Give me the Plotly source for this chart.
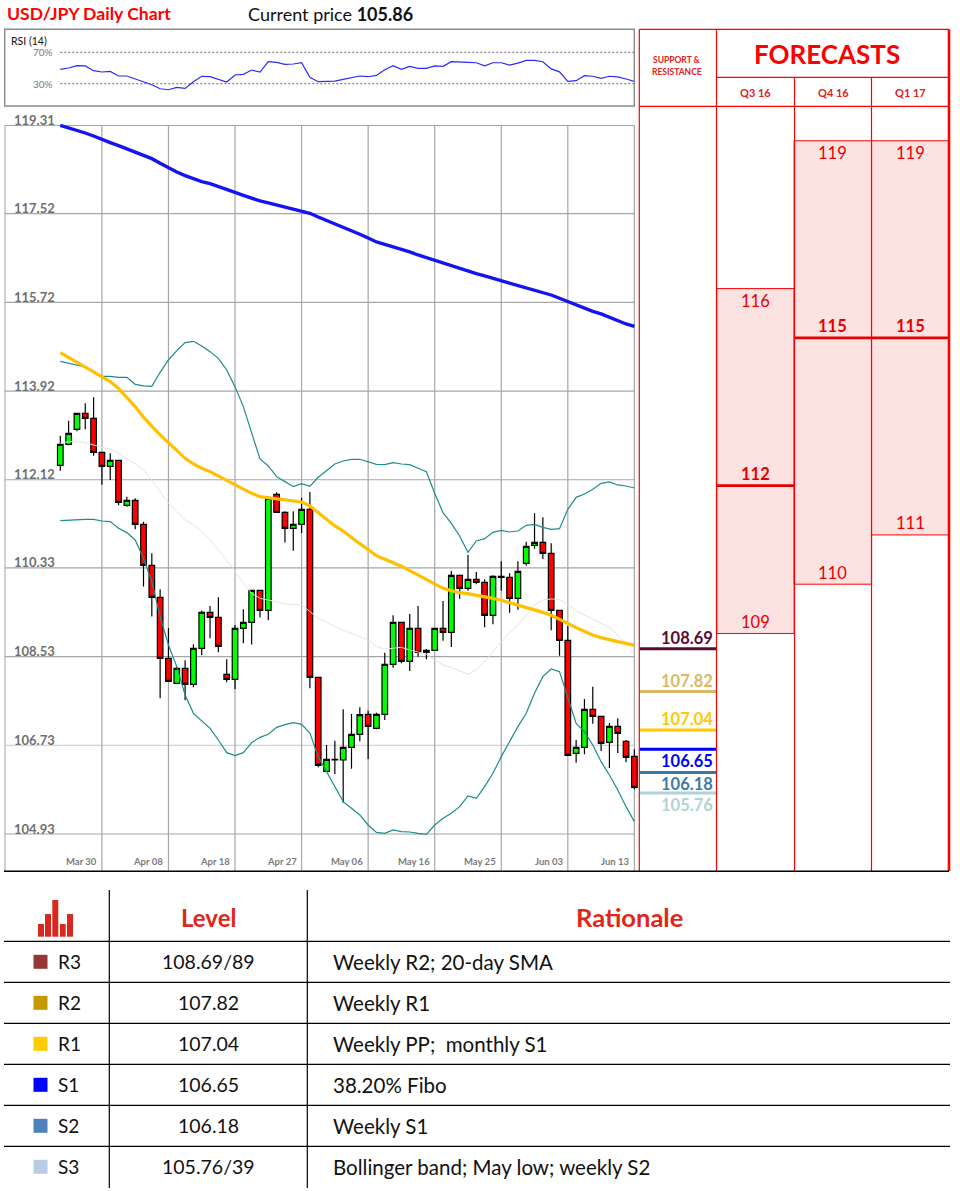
import plotly.graph_objects as go

# ---------------- data ----------------
idx = list(range(70))
opens = [112.413,112.839,113.144,113.468,113.367,112.677,112.393,112.515,111.601,111.703,
         111.216,110.384,109.734,108.496,107.989,108.293,107.968,108.699,109.43,109.328,
         108.171,108.07,109.105,109.227,109.876,109.47,111.825,111.459,111.135,111.216,
         111.52,108.11,106.202,106.432,106.432,106.689,106.953,107.359,107.075,107.359,
         108.374,109.226,108.435,109.104,108.617,108.658,109.104,109.023,110.18,109.916,
         110.099,110.038,109.368,110.14,110.14,109.713,110.424,110.789,110.85,110.627,
         109.47,108.861,106.568,106.689,107.461,107.319,106.791,107.116,106.811,106.507]
highs = [113.015,113.32,113.482,113.671,113.793,112.677,112.657,112.515,111.777,111.743,
         111.27,110.627,109.897,109.112,108.327,108.456,108.78,109.464,109.558,109.734,
         108.476,109.173,109.491,109.883,109.883,111.791,111.865,111.48,111.48,111.757,
         111.872,108.11,106.737,106.825,107.461,107.366,107.501,107.433,107.393,108.611,
         109.368,109.226,109.395,109.558,108.685,109.104,109.659,110.268,110.18,110.593,
         110.248,110.099,110.18,110.464,110.221,110.464,110.863,111.438,111.357,110.83,
         109.47,109.152,106.838,107.67,107.921,107.319,107.183,107.278,106.838,106.649]
lows = [112.305,112.819,113.103,113.144,112.609,112.021,112.115,111.601,111.574,111.114,
        109.951,109.342,107.684,108.029,107.989,107.644,107.908,108.557,108.902,108.618,
        108.009,107.867,108.801,108.774,109.328,109.267,111.459,110.844,110.681,111.04,
        107.887,106.283,106.202,106.148,105.566,106.256,106.811,106.453,107.055,107.244,
        108.306,108.394,108.239,108.529,108.475,108.644,108.854,108.726,109.707,109.869,
        109.997,109.125,109.186,109.869,109.422,109.483,110.376,110.721,110.512,109.064,
        108.55,106.527,106.378,106.547,107.17,106.615,106.27,106.574,106.385,105.837]
closes = [112.839,113.063,113.468,113.367,112.677,112.393,112.515,111.662,111.703,111.216,
          110.384,109.734,108.496,108.029,108.293,107.968,108.699,109.43,109.328,108.74,
          108.07,109.105,109.227,109.876,109.47,111.743,111.459,111.135,111.216,111.52,
          108.11,106.324,106.446,106.446,106.689,106.953,107.352,107.116,107.359,108.374,
          109.226,108.435,109.104,108.617,108.658,109.104,109.023,110.18,109.916,110.099,
          110.038,109.368,110.16,110.16,109.713,110.261,110.769,110.85,110.627,109.47,
          108.861,106.527,106.689,107.461,107.319,106.771,107.116,106.973,106.486,105.878]
ma_blue = [119.314,119.266,119.212,119.158,119.097,119.023,118.962,118.901,118.833,118.766,
           118.705,118.637,118.543,118.448,118.367,118.292,118.225,118.171,118.13,118.076,
           118.015,117.954,117.893,117.832,117.778,117.738,117.697,117.656,117.623,117.582,
           117.528,117.453,117.386,117.311,117.237,117.169,117.102,117.027,116.946,116.899,
           116.851,116.804,116.743,116.682,116.628,116.56,116.506,116.459,116.405,116.351,
           116.303,116.256,116.209,116.161,116.114,116.067,116.019,115.972,115.931,115.87,
           115.803,115.735,115.667,115.6,115.539,115.485,115.417,115.35,115.282,115.235]
ma_yellow = [114.70,114.605,114.511,114.409,114.308,114.206,114.111,113.976,113.794,113.604,
             113.387,113.198,113.029,112.873,112.711,112.555,112.44,112.352,112.285,112.197,
             112.102,112.014,111.933,111.845,111.777,111.757,111.737,111.703,111.689,111.669,
             111.588,111.452,111.317,111.182,111.08,110.945,110.823,110.701,110.579,110.505,
             110.437,110.363,110.275,110.187,110.092,109.997,109.916,109.869,109.828,109.808,
             109.781,109.747,109.713,109.673,109.625,109.578,109.531,109.483,109.429,109.368,
             109.294,109.206,109.118,109.037,108.969,108.915,108.868,108.834,108.80,108.759]
bb_upper = [114.524,114.484,114.45,114.409,114.314,114.22,114.22,114.199,114.199,114.057,
            114.024,114.017,114.301,114.551,114.741,114.903,114.93,114.835,114.72,114.585,
            114.348,114.01,113.604,113.063,112.542,112.4,112.183,112.082,111.98,112.041,
            111.987,112.17,112.305,112.44,112.501,112.535,112.535,112.487,112.433,112.426,
            112.467,112.44,112.426,112.352,112.284,111.845,111.452,111.236,110.979,110.647,
            110.877,110.924,111.053,111.094,111.06,111.08,111.195,111.215,111.155,111.114,
            111.127,111.52,111.763,111.831,111.926,112.047,112.075,112.014,111.993,111.953]
bb_lower = [111.29,111.304,111.317,111.317,111.317,111.283,111.27,111.135,111.047,110.898,
            110.526,110.052,109.342,108.767,108.327,107.752,107.379,107.231,107.075,106.838,
            106.581,106.52,106.581,106.784,106.892,106.953,107.095,107.149,107.19,107.156,
            106.98,106.5,106.195,105.891,105.587,105.451,105.316,105.113,104.964,104.944,
            105.012,104.978,104.971,104.944,104.924,105.113,105.248,105.35,105.485,105.702,
            105.654,105.891,106.162,106.5,106.804,107.109,107.379,107.785,108.124,108.279,
            108.225,107.718,107.176,107.007,106.737,106.398,106.128,105.823,105.485,105.181]
bb_mid = [112.86,112.893,112.893,112.873,112.826,112.778,112.738,112.657,112.555,112.44,
          112.318,112.115,111.879,111.642,111.473,111.304,111.202,111.067,110.898,110.695,
          110.492,110.255,110.018,109.815,109.714,109.68,109.633,109.599,109.585,109.579,
          109.443,109.308,109.227,109.139,109.071,109.003,108.936,108.868,108.733,108.685,
          108.699,108.719,108.665,108.631,108.584,108.462,108.361,108.313,108.246,108.171,
          108.259,108.428,108.631,108.834,109.017,109.172,109.375,109.578,109.68,109.70,
          109.693,109.592,109.463,109.375,109.294,109.206,109.125,108.969,108.766,108.597]
rsi = [48.3,50.0,53.0,52.6,46.6,44.9,45.7,39.8,39.8,36.4,32.1,28.7,23.6,22.3,25.3,24.0,32.6,39.4,38.9,35.5,
       32.1,41.1,41.9,47.4,44.9,58.1,57.2,54.7,55.1,56.8,38.1,32.6,33.0,33.4,35.5,37.2,39.8,38.9,40.6,47.9,
       53.0,48.3,52.1,49.6,49.6,52.6,52.1,58.1,57.2,57.2,56.7,52.8,56.7,56.7,53.7,56.2,59.7,59.7,58.0,48.9,
       45.1,33.0,33.9,40.3,39.5,36.9,39.5,38.6,36.0,33.0]
y_ticks = [119.31,117.52,115.72,113.92,112.12,110.33,108.53,106.73,104.93]
x_tick_idx = [5,13,21,29,37,45,53,61,69]
x_tick_labels = ["Mar 30","Apr 08","Apr 18","Apr 27","May 06","May 16","May 25","Jun 03","Jun 13"]
levels = [108.69,107.82,107.04,106.65,106.18,105.76]
level_colors = ["#5c0a32","#dcb866","#ffc800","#0000ff","#3b7aa6","#aed4d6"]
quarters = ["Q3 16","Q4 16","Q1 17"]
fc_high = [116,119,119]
fc_mid = [112,115,115]
fc_low = [109,110,111]
tbl_names = ["R3","R2","R1","S1","S2","S3"]
tbl_levels = ["108.69/89","107.82","107.04","106.65","106.18","105.76/39"]
tbl_reasons = ["Weekly R2; 20-day SMA","Weekly R1","Weekly PP;  monthly S1","38.20% Fibo","Weekly S1",
               "Bollinger band; May low; weekly S2"]
tbl_colors = ["#953735","#c69900","#ffcc00","#0000ff","#4f81bd","#b8cce4"]

# ---------------- layout helpers ----------------
W, H = 960, 1191
FONT = "Lato"
def px(x): return x / W
def py(y): return 1 - y / H

X0, STEP = 60.3, 8.32          # pixel of candle 0, pixels per candle
def x_range(a, b): return [(a - X0) / STEP, (b - X0) / STEP]
Y_TOP, PPU = 125.5, 49.27      # pixel of the top tick, pixels per price unit
def y_price(y): return y_ticks[0] - (y - Y_TOP) / PPU

shapes, notes = [], []
def pline(x0, y0, x1, y1, color, width=1.0, dash=None, layer="above"):
    shapes.append(dict(type="line", xref="paper", yref="paper", x0=px(x0), y0=py(y0), x1=px(x1), y1=py(y1),
                       line=dict(color=color, width=width, dash=dash or "solid"), layer=layer))
def prect(x0, y0, x1, y1, color):
    shapes.append(dict(type="rect", xref="paper", yref="paper", x0=px(x0), y0=py(y0), x1=px(x1), y1=py(y1),
                       fillcolor=color, line=dict(width=0), layer="above"))
def text(x, y, s, size, color="#000", anchor="center", bold=False):
    notes.append(dict(xref="paper", yref="paper", x=px(x), y=py(y), text=f"<b>{s}</b>" if bold else s,
                      showarrow=False, xanchor=anchor, yanchor="middle",
                      font=dict(size=size, color=color, family=FONT)))

fig = go.Figure()

# ---------------- main price chart ----------------
fig.add_trace(go.Candlestick(x=idx, open=opens, high=highs, low=lows, close=closes, whiskerwidth=0,
                             increasing=dict(fillcolor="#00ff00", line=dict(color="#000", width=1.2)),
                             decreasing=dict(fillcolor="#ff0000", line=dict(color="#000", width=1.2))))
fig.add_trace(go.Scatter(x=idx, y=bb_mid, mode="lines", line=dict(color="#e4e4e4", width=1)))
fig.add_trace(go.Scatter(x=idx, y=bb_upper, mode="lines", line=dict(color="#1d8c8c", width=1.2)))
fig.add_trace(go.Scatter(x=idx, y=bb_lower, mode="lines", line=dict(color="#1d8c8c", width=1.2)))
fig.add_trace(go.Scatter(x=idx, y=ma_yellow, mode="lines", line=dict(color="#ffc000", width=3.2)))
fig.add_trace(go.Scatter(x=idx, y=ma_blue, mode="lines", line=dict(color="#1414f0", width=3.4)))

xmin = x_range(4.5, 639)[0]
for t in y_ticks:
    c = "#d4d4d4" if t == 106.73 else "#a6a6a6"
    shapes.append(dict(type="line", xref="x", yref="y", x0=xmin, x1=x_tick_idx[-1], y0=t, y1=t,
                       line=dict(color=c, width=1.2), layer="below"))
    notes.append(dict(xref="paper", yref="y", x=px(11.5), y=t, text=f"<b>{t:.2f}</b>", showarrow=False,
                      xanchor="left", yanchor="middle", yshift=5.5,
                      font=dict(size=13, color="#6f6f6f", family=FONT)))
for t, lab in zip(x_tick_idx, x_tick_labels):
    shapes.append(dict(type="line", xref="x", yref="y", x0=t, x1=t, y0=y_price(871), y1=y_ticks[0],
                       line=dict(color="#a6a6a6", width=1.2), layer="below"))
    notes.append(dict(xref="x", yref="paper", x=t, y=py(861.5), text=f"<b>{lab}</b>", showarrow=False,
                      xanchor="right", yanchor="middle", xshift=-3,
                      font=dict(size=9.5, color="#7a7a7a", family=FONT)))
pline(5, 125, 5, 871, "#d2d2d2", 2.2, layer="below")

# ---------------- RSI panel ----------------
fig.add_trace(go.Scatter(x=idx, y=rsi, mode="lines", line=dict(color="#2a2aff", width=1.2),
                         xaxis="x3", yaxis="y2"))
for lv, lab in ((70, "70%"), (30, "30%")):
    shapes.append(dict(type="line", xref="x3", yref="y2", x0=idx[0], x1=x_range(4.5, 634.3)[1], y0=lv, y1=lv,
                       line=dict(color="#666", width=1, dash="2px,2px"), layer="below"))
    notes.append(dict(xref="paper", yref="y2", x=px(55), y=lv, text=lab, showarrow=False, xanchor="right",
                      yanchor="middle", font=dict(size=10, color="#777", family=FONT)))
text(8.5, 41, "RSI (14)", 10.5, "#111", "left")
shapes.append(dict(type="rect", xref="paper", yref="paper", x0=px(4.7), x1=px(634.3), y0=py(106), y1=py(29.3),
                   line=dict(color="#8a8a8a", width=1.4), layer="above"))

# ---------------- forecast panel ----------------
COLS = [639.3, 716.5, 794.5, 871.5, 949]
fig.add_trace(go.Bar(x=[1.5, 2.5, 3.5], y=[h - l for h, l in zip(fc_high, fc_low)], base=fc_low, width=1,
                     marker=dict(color="#fde2e2", line=dict(color="#f00", width=1)),
                     xaxis="x2", yaxis="y"))
for i, m in enumerate(fc_mid):
    fig.add_trace(go.Scatter(x=[i + 1, i + 2], y=[m, m], mode="lines", line=dict(color="#e60000", width=2.6),
                             xaxis="x2", yaxis="y"))
for i, (h, m, l) in enumerate(zip(fc_high, fc_mid, fc_low)):
    for v, shift, b in ((h, -12, False), (m, 11.5, True), (l, 11.5, False)):
        notes.append(dict(xref="x2", yref="y", x=i + 1.5, y=v, yshift=shift, showarrow=False,
                          text=f"<b>{v}</b>" if b else str(v), xanchor="center", yanchor="middle",
                          font=dict(size=16.5, color="#e60000", family=FONT)))
for v, c, shift in zip(levels, level_colors, (11, 11, 11, -11.5, -11.5, -12)):
    fig.add_trace(go.Scatter(x=[0, 1], y=[v, v], mode="lines", line=dict(color=c, width=3),
                             xaxis="x2", yaxis="y"))
    notes.append(dict(xref="paper", yref="y", x=px(715), y=v, yshift=shift, showarrow=False, text=f"<b>{v:.2f}</b>",
                      xanchor="right", yanchor="middle", font=dict(size=16.5, color=c, family=FONT)))
RED = "#f00"
pline(COLS[0], 29.3, COLS[4], 29.3, RED, 1.2)
pline(COLS[1], 77.3, COLS[4], 77.3, RED, 1.2)
pline(COLS[0], 106.3, COLS[4], 106.3, RED, 1.2)
pline(COLS[0], 29.3, COLS[0], 871, RED, 1.2)
pline(COLS[1], 29.3, COLS[1], 871, RED, 1.2)
pline(COLS[2], 77.3, COLS[2], 871, RED, 1.2)
pline(COLS[3], 77.3, COLS[3], 871, RED, 1.2)
pline(COLS[4], 29.3, COLS[4], 871, RED, 2.6)
text(827, 54, "FORECASTS", 26, RED, bold=True)
text(677, 60, "SUPPORT &", 8.5, "#e02020", bold=True)
text(677, 72, "RESISTANCE", 8.5, "#e02020", bold=True)
for q, cx in zip(quarters, (755.5, 833, 910)):
    text(cx, 92, q, 11, "#e02020", bold=True)

pline(4, 871.3, 949, 871.3, "#000", 1.4)

# ---------------- title ----------------
text(5, 14, "USD/JPY Daily Chart", 17.6, "#f00", "left", True)
text(246, 14, "Current price <b>105.86</b>", 18, "#111", "left")

# ---------------- bottom table ----------------
ROW_LINES = [941.3, 982.3, 1023.3, 1064.3, 1105.3, 1146.3]
for y in ROW_LINES:
    pline(4, y, 950, y, "#000", 1.2)
pline(109.3, 890, 109.3, 1188, "#000", 1.2)
pline(307.3, 890, 307.3, 1188, "#000", 1.2)
for x0, x1, top in ((38, 44, 924), (45, 51, 914), (52.3, 58.3, 900), (60, 65.7, 924), (67, 73, 914)):
    prect(x0, top, x1, 936.7, "#d9281e")
text(208, 917, "Level", 24, "#e0261a", bold=True)
text(629, 917, "Rationale", 25.5, "#e0261a", bold=True)
for y, n, lv, r, c in zip(ROW_LINES, tbl_names, tbl_levels, tbl_reasons, tbl_colors):
    cy = y + 20.5
    prect(33.5, cy - 7, 47.5, cy + 7, c)
    text(56, cy, n, 19, "#111", "left")
    text(208, cy, lv, 19.5, "#111")
    text(331, cy, r, 20.5, "#111", "left")

# ---------------- axes ----------------
def hidden(**kw):
    return dict(visible=False, fixedrange=True, **kw)
fig.update_layout(
    width=W, height=H, margin=dict(l=0, r=0, t=0, b=0), showlegend=False,
    paper_bgcolor="#fff", plot_bgcolor="rgba(0,0,0,0)", boxgap=0.18, boxgroupgap=0.18,
    xaxis=hidden(domain=[px(4.5), px(639)], range=x_range(4.5, 639), anchor="y", rangeslider=dict(visible=False)),
    yaxis=hidden(domain=[py(871.5), py(120)], range=[y_price(871.5), y_price(120)], anchor="x"),
    xaxis2=hidden(domain=[px(COLS[0]), px(COLS[4])], range=[0, 4], anchor="y"),
    xaxis3=hidden(domain=[px(4.7), px(634.3)], range=x_range(4.7, 634.3), anchor="y2"),
    yaxis2=hidden(domain=[py(106), py(29.3)], range=[1.6, 99.3], anchor="x3"),
    shapes=shapes, annotations=notes,
)
fig.write_html("out.html", config={"displayModeBar": False}, post_script="document.body.style.margin='0';")
